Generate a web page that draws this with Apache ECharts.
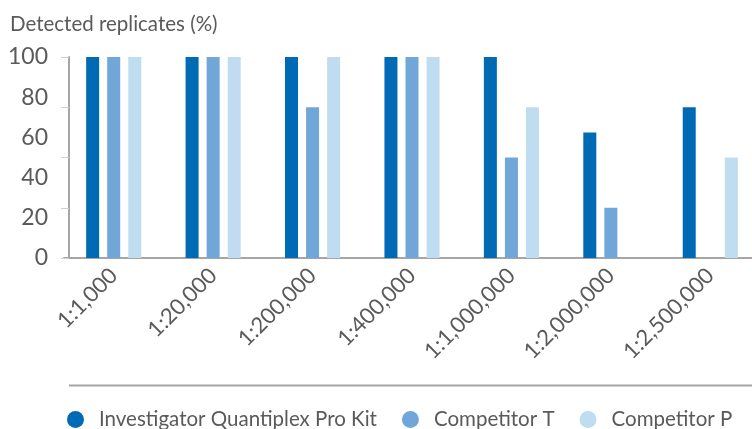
<!DOCTYPE html>
<html>
<head>
<meta charset="utf-8">
<script src="https://cdn.jsdelivr.net/npm/echarts@6/dist/echarts.min.js"></script>
<style>
  html, body { margin: 0; padding: 0; background: #ffffff; }
  #chart { width: 752px; height: 429px; }
</style>
</head>
<body>
<div id="chart"></div>
<script>
// dilution steps
const categories = ["1:1,000", "1:20,000", "1:200,000", "1:400,000", "1:1,000,000", "1:2,000,000", "1:2,500,000"];
// detected replicates (%)
const quantiplex = [100, 100, 100, 100, 100, 62.5, 75];
const competitorT = [100, 100, 75, 100, 50, 25, 0];
const competitorP = [100, 100, 100, 100, 75, 0, 50];
// the printed y labels (20 steps) do not sit on the ticks (25 steps)
const yLabelTicks = [0, 20, 40, 60, 80, 100];
const yTicks = [0, 25, 50, 75, 100];

const textColor = "#5a5a5a";
const fontFamily = "Lato, 'Open Sans', sans-serif";

const chart = echarts.init(document.getElementById("chart"));

const option = {
  backgroundColor: "#ffffff",
  animation: false,
  textStyle: { fontFamily: fontFamily },
  grid: {
    left: 64,
    width: 696,
    top: 57,
    bottom: 171,
    containLabel: false,
    outerBoundsMode: "none",
  },
  legend: {
    bottom: -6,
    left: 62,
    icon: "circle",
    itemWidth: 17,
    itemHeight: 17,
    itemGap: 25,
    textStyle: {
      color: textColor,
      fontSize: 20.5,
      fontFamily: fontFamily,
      padding: [0, 0, 0, 10],
    },
    data: ["Investigator Quantiplex Pro Kit", "Competitor T", "Competitor P"],
  },
  graphic: [
    {
      type: "line",
      shape: { x1: 69, y1: 385.5, x2: 752, y2: 385.5 },
      style: { stroke: "#a6a6a6", lineWidth: 2 },
    },
  ],
  xAxis: {
    type: "category",
    data: categories,
    axisLine: { lineStyle: { color: "#a6a6a6", width: 2 } },
    axisTick: { show: false },
    axisLabel: {
      rotate: 45,
      margin: 14,
      color: textColor,
      fontSize: 22,
      fontFamily: fontFamily,
    },
  },
  yAxis: [
    {
      type: "value",
      min: 0,
      max: yTicks[yTicks.length - 1],
      interval: yTicks[1] - yTicks[0],
      offset: -5,
      name: "Detected replicates (%)",
      nameLocation: "end",
      nameGap: 22,
      nameTextStyle: {
        color: textColor,
        fontSize: 20.5,
        fontFamily: fontFamily,
        align: "left",
        padding: [0, 0, 0, -59],
      },
      axisLine: { show: true, lineStyle: { color: "#a6a6a6", width: 2 } },
      axisTick: { show: true, inside: false, length: 8, lineStyle: { color: "#d0d0d0", width: 1 } },
      axisLabel: { show: false },
      splitLine: { show: false },
    },
    {
      type: "value",
      position: "left",
      min: 0,
      max: yLabelTicks[yLabelTicks.length - 1],
      interval: yLabelTicks[1] - yLabelTicks[0],
      offset: -5,
      axisLine: { show: false },
      axisTick: { show: false },
      splitLine: { show: false },
      axisLabel: {
        margin: 21,
        color: textColor,
        fontSize: 23,
        fontFamily: fontFamily,
        padding: [3, 0, 0, 0],
      },
    },
  ],
  series: [
    {
      name: "Investigator Quantiplex Pro Kit",
      type: "bar",
      barWidth: 13,
      barGap: "62%",
      itemStyle: { color: "#006ab5" },
      data: quantiplex,
    },
    {
      name: "Competitor T",
      type: "bar",
      barWidth: 13,
      barGap: "62%",
      itemStyle: { color: "#70a6d8" },
      data: competitorT,
    },
    {
      name: "Competitor P",
      type: "bar",
      barWidth: 13,
      barGap: "62%",
      itemStyle: { color: "#bfdcf1" },
      data: competitorP,
    },
  ],
};

chart.setOption(option);
</script>
</body>
</html>
